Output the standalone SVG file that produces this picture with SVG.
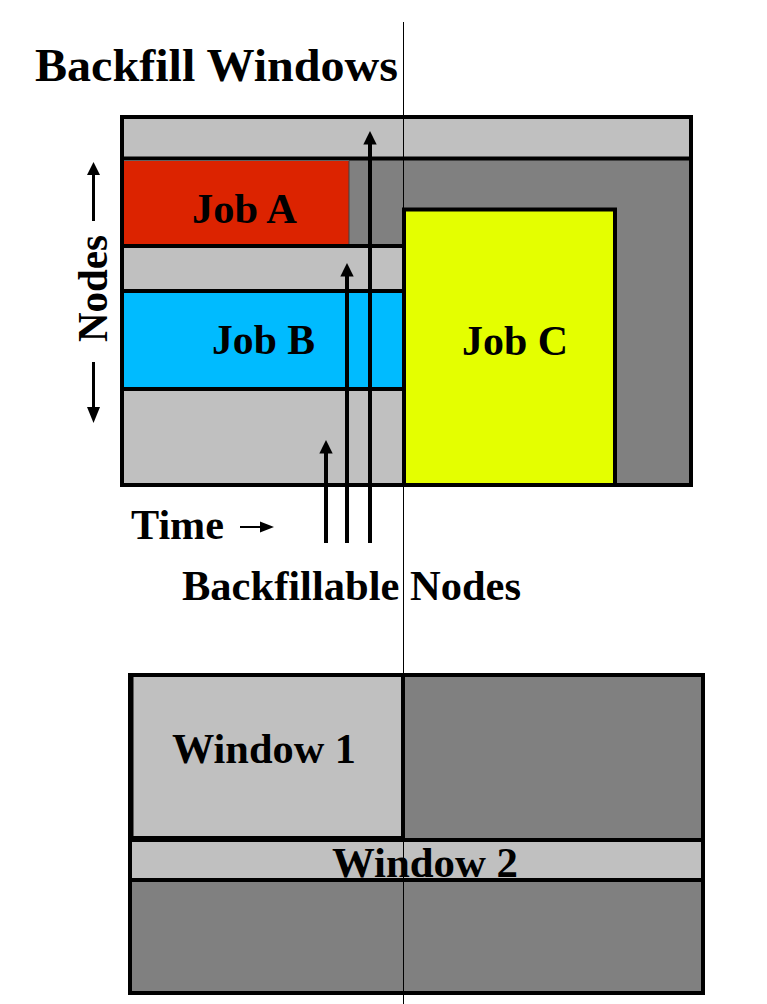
<svg xmlns="http://www.w3.org/2000/svg" width="767" height="1004" viewBox="0 0 767 1004">
<style>
  .t { font-family: "Liberation Serif", "Times New Roman", serif; font-weight: bold; fill: #000; }
  .lg { fill: #c0c0c0; }
  .dg { fill: #808080; }
  .bl { stroke: #000; stroke-width: 4; fill: none; }
  .arr { stroke: #000; stroke-width: 4; fill: none; }
  .head { fill: #000; }
</style>
<rect x="0" y="0" width="767" height="1004" fill="#fff"/>

<text class="t" x="35" y="81" font-size="47" textLength="363" lengthAdjust="spacingAndGlyphs">Backfill Windows</text>

<g id="top-frame">
  <rect x="122" y="117" width="569" height="368" class="lg"/>
  <rect x="349" y="160" width="342" height="86" class="dg"/>
  <rect x="404" y="246" width="287" height="239" class="dg"/>
  <line x1="120" y1="158.5" x2="693" y2="158.5" class="bl"/>
</g>
<g id="job-a">
  <rect x="124" y="161" width="225" height="83" fill="#dc2300"/>
  <line x1="349" y1="161" x2="349" y2="244" stroke="#404040" stroke-width="1"/>
  <text class="t" x="244.5" y="223" font-size="42" text-anchor="middle" textLength="105" lengthAdjust="spacingAndGlyphs">Job A</text>
</g>
<g id="job-b">
  <line x1="122" y1="246" x2="404" y2="246" class="bl"/>
  <rect x="124" y="293" width="280" height="94" fill="#00bbff"/>
  <line x1="122" y1="291" x2="404" y2="291" class="bl"/>
  <line x1="122" y1="389" x2="404" y2="389" class="bl"/>
  <text class="t" x="263.5" y="354" font-size="42" text-anchor="middle" textLength="103" lengthAdjust="spacingAndGlyphs">Job B</text>
</g>
<g id="job-c">
  <rect x="404" y="209.5" width="211" height="275.5" fill="#e4ff00" stroke="#000" stroke-width="4"/>
  <text class="t" x="515" y="355" font-size="42" text-anchor="middle" textLength="106" lengthAdjust="spacingAndGlyphs">Job C</text>
</g>
<rect x="122" y="117" width="569" height="368" class="bl"/>

<g id="axis-nodes">
  <line x1="93.5" y1="172" x2="93.5" y2="221" stroke="#000" stroke-width="3"/>
  <polygon points="93.5,162 87,175 100,175" class="head"/>
  <line x1="93.5" y1="362" x2="93.5" y2="410" stroke="#000" stroke-width="3"/>
  <polygon points="93.5,423 87,407 100,407" class="head"/>
  <text class="t" font-size="42" text-anchor="middle" textLength="107" lengthAdjust="spacingAndGlyphs" transform="translate(106.5,288.5) rotate(-90)">Nodes</text>
</g>
<g id="axis-time">
  <text class="t" x="131" y="539" font-size="42" textLength="93" lengthAdjust="spacingAndGlyphs">Time</text>
  <line x1="240" y1="527" x2="262" y2="527" stroke="#000" stroke-width="2"/>
  <polygon points="274,527 260,521.5 260,532.5" class="head"/>
</g>

<g id="connectors">
  <line x1="370" y1="543" x2="370" y2="140" class="arr"/>
  <polygon points="370,131 363.3,144.5 376.7,144.5" class="head"/>
  <line x1="347" y1="543" x2="347" y2="272" class="arr"/>
  <polygon points="347,263 340.3,276.5 353.7,276.5" class="head"/>
  <line x1="326" y1="543" x2="326" y2="449" class="arr"/>
  <polygon points="326,440 319.3,453.5 332.7,453.5" class="head"/>
</g>
<text class="t" x="182" y="600" font-size="43" textLength="339" lengthAdjust="spacingAndGlyphs">Backfillable Nodes</text>

<g id="bottom-frame">
  <rect x="130" y="675" width="573" height="318" class="dg"/>
  <rect x="130" y="842" width="573" height="36" class="lg"/>
  <line x1="128" y1="840" x2="705" y2="840" class="bl"/>
  <line x1="128" y1="880" x2="705" y2="880" class="bl"/>
</g>
<g id="window-1">
  <rect x="131.5" y="675" width="271.5" height="163" class="lg" stroke="#000" stroke-width="4"/>
  <text class="t" x="264" y="763" font-size="42" text-anchor="middle" textLength="184" lengthAdjust="spacingAndGlyphs">Window 1</text>
</g>
<g id="window-2">
  <text class="t" x="425" y="877" font-size="42" text-anchor="middle" textLength="186" lengthAdjust="spacingAndGlyphs">Window 2</text>
</g>
<rect x="130" y="675" width="573" height="318" class="bl"/>

<line x1="403.5" y1="22" x2="403.5" y2="1004" stroke="#000" stroke-width="1"/>
</svg>
